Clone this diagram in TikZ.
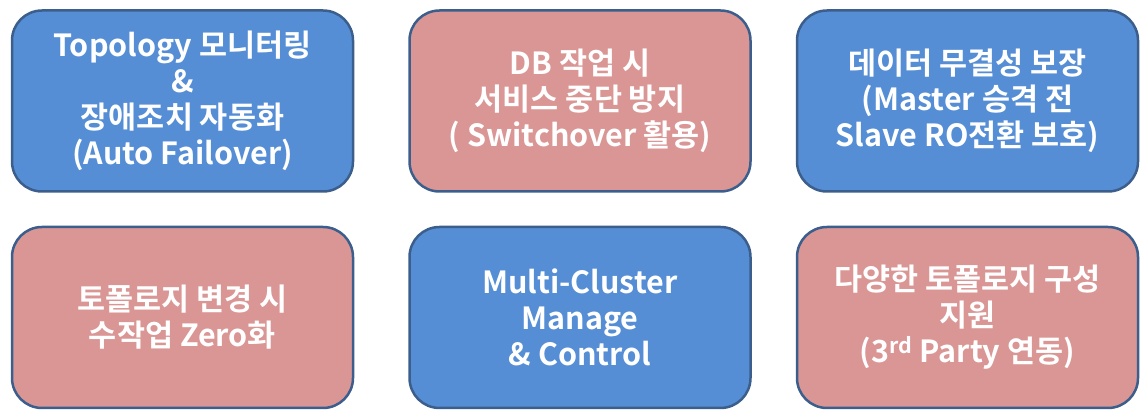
\documentclass[tikz,border=0pt]{standalone}
\usepackage{fontspec}
\newfontfamily\kofont{Noto Sans CJK KR Bold}
\usetikzlibrary{positioning}
\definecolor{boxblue}{HTML}{558ED5}
\definecolor{boxpink}{HTML}{D99694}
\definecolor{boxline}{HTML}{3B5E8C}
\tikzset{
  feature/.style={rounded corners=30pt, align=center, font=\kofont\fontsize{30.5}{36}\selectfont, text=white, draw=boxline, line width=2.5pt, minimum width=341pt, minimum height=181pt, inner sep=0pt},
  blue feature/.style={feature, fill=boxblue},
  pink feature/.style={feature, fill=boxpink},
}
\begin{document}
\begin{tikzpicture}
\useasboundingbox (0,0) rectangle (1148pt,420pt);
% top row
\node [blue feature] (topo) at (182.5pt,319pt) {Topology 모니터링\\\&\\장애조치 자동화\\(Auto Failover)};
\node [pink feature,right=54pt of topo] (switch) {DB 작업 시\\서비스 중단 방지\\( Switchover 활용)};
\node [blue feature,right=44pt of switch] (integrity) {데이터 무결성 보장\\(Master 승격 전\\Slave RO전환 보호)};
% bottom row
\node [pink feature,below=33pt of topo] (zero) {토폴로지 변경 시\\수작업 Zero화};
\node [blue feature,below=33pt of switch] (multi) {Multi-Cluster\\Manage\\\& Control};
\node [pink feature,below=33pt of integrity] (support) {다양한 토폴로지 구성\\지원\\(3\textsuperscript{rd} Party 연동)};
\end{tikzpicture}
\end{document}
